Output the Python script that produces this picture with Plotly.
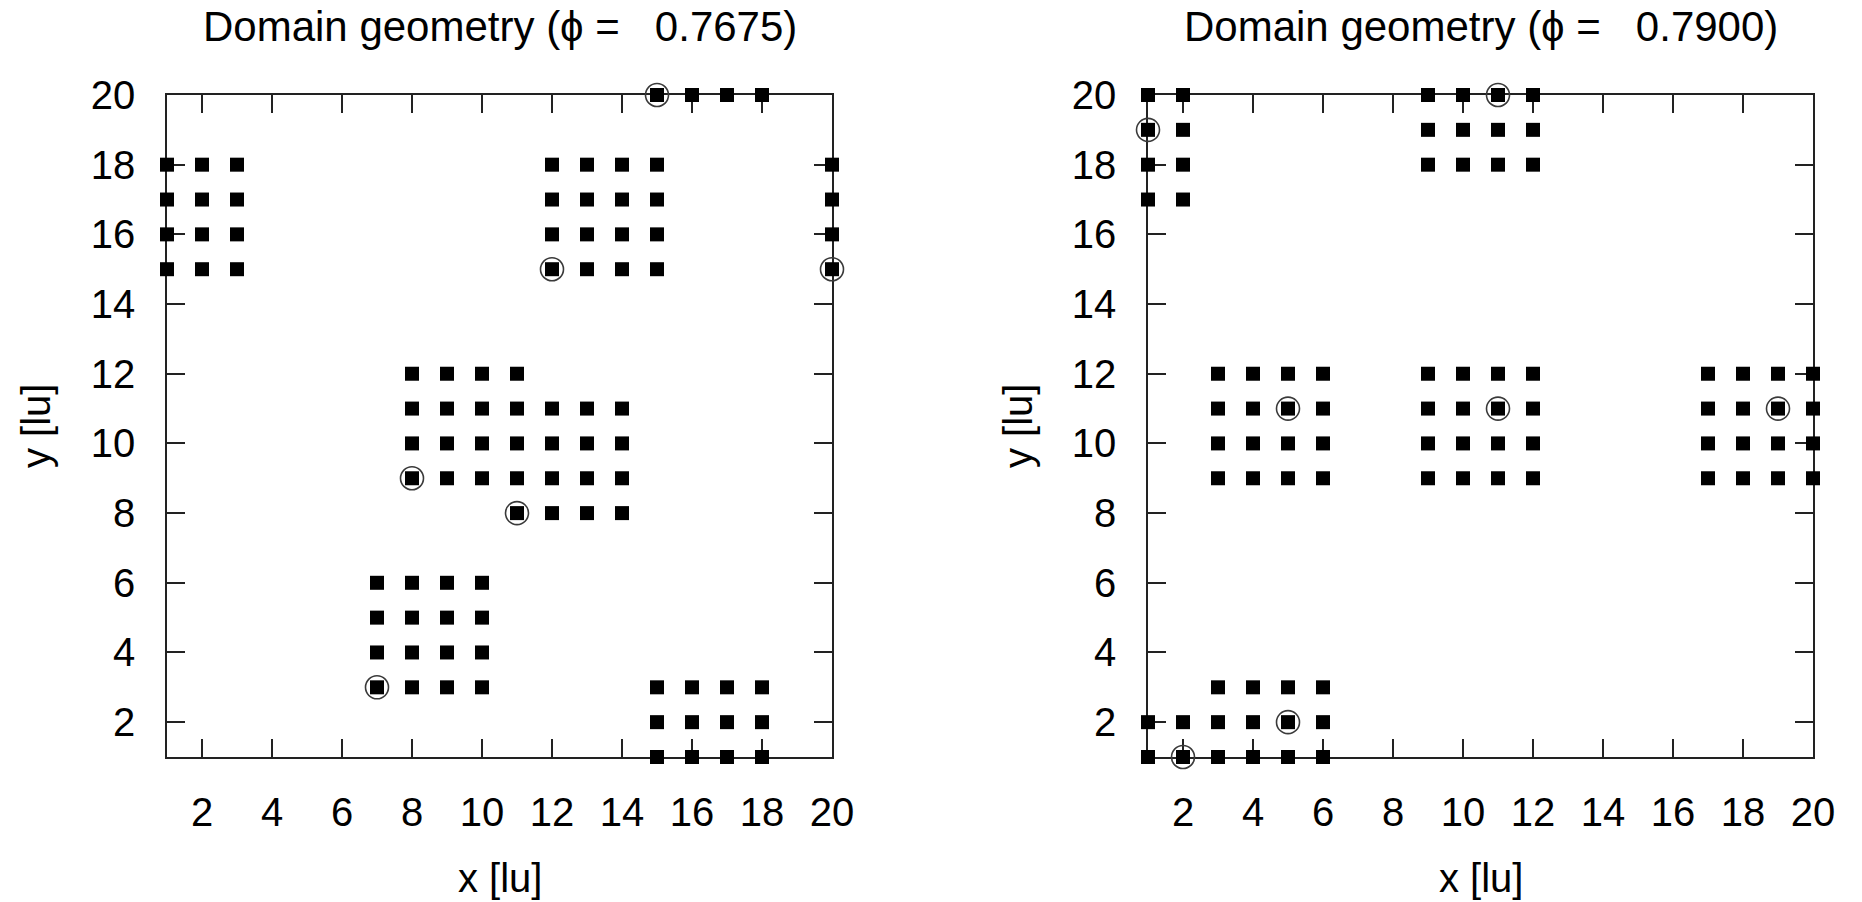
import plotly.graph_objects as go

W, H = 1862, 902

# ---------------- data ----------------
# Left panel, phi = 0.7675 : rows of filled squares  (y, [x ...])
left_rows_y = [20, 18, 17, 16, 15, 12, 11, 10, 9, 8, 6, 5, 4, 3, 2, 1]
left_rows_x = [
    [15, 16, 17, 18],
    [1, 2, 3, 12, 13, 14, 15, 20],
    [1, 2, 3, 12, 13, 14, 15, 20],
    [1, 2, 3, 12, 13, 14, 15, 20],
    [1, 2, 3, 12, 13, 14, 15, 20],
    [8, 9, 10, 11],
    [8, 9, 10, 11, 12, 13, 14],
    [8, 9, 10, 11, 12, 13, 14],
    [8, 9, 10, 11, 12, 13, 14],
    [11, 12, 13, 14],
    [7, 8, 9, 10],
    [7, 8, 9, 10],
    [7, 8, 9, 10],
    [7, 8, 9, 10, 15, 16, 17, 18],
    [15, 16, 17, 18],
    [15, 16, 17, 18],
]
left_circle_x = [15, 12, 20, 8, 11, 7]
left_circle_y = [20, 15, 15, 9, 8, 3]
left_phi = "0.7675"

# Right panel, phi = 0.7900
right_rows_y = [20, 19, 18, 17, 12, 11, 10, 9, 3, 2, 1]
right_rows_x = [
    [1, 2, 9, 10, 11, 12],
    [1, 2, 9, 10, 11, 12],
    [1, 2, 9, 10, 11, 12],
    [1, 2],
    [3, 4, 5, 6, 9, 10, 11, 12, 17, 18, 19, 20],
    [3, 4, 5, 6, 9, 10, 11, 12, 17, 18, 19, 20],
    [3, 4, 5, 6, 9, 10, 11, 12, 17, 18, 19, 20],
    [3, 4, 5, 6, 9, 10, 11, 12, 17, 18, 19, 20],
    [3, 4, 5, 6],
    [1, 2, 3, 4, 5, 6],
    [1, 2, 3, 4, 5, 6],
]
right_circle_x = [1, 11, 5, 11, 19, 2, 5]
right_circle_y = [19, 20, 11, 11, 11, 1, 2]
right_phi = "0.7900"

tick_vals = [2, 4, 6, 8, 10, 12, 14, 16, 18, 20]
axis_range = [1, 20]
x_title = "x [lu]"
y_title = "y [lu]"


def flatten(rows_y, rows_x):
    xs, ys = [], []
    for yv, xr in zip(rows_y, rows_x):
        for xv in xr:
            xs.append(xv)
            ys.append(yv)
    return xs, ys


# ---------------- layout geometry (pixels) ----------------
top_px, bot_px = 95, 757
left_dom_px = (167, 832)
right_dom_px = (1148, 1813)

FONT = "Liberation Sans, Arial, sans-serif"
FS = 40
FS_TITLE = 42

fig = go.Figure()

panels = [
    ("x", "y", left_rows_y, left_rows_x, left_circle_x, left_circle_y),
    ("x2", "y2", right_rows_y, right_rows_x, right_circle_x, right_circle_y),
]
for xa, ya, ry, rx, cx, cy in panels:
    sx, sy = flatten(ry, rx)
    fig.add_trace(go.Scatter(
        x=sx, y=sy, mode="markers", xaxis=xa, yaxis=ya,
        marker=dict(symbol="square", size=14, color="black", line=dict(width=0)),
        cliponaxis=False, showlegend=False, hoverinfo="x+y"))
    fig.add_trace(go.Scatter(
        x=cx, y=cy, mode="markers", xaxis=xa, yaxis=ya,
        marker=dict(symbol="circle-open", size=23, color="#3a3a3a",
                    line=dict(width=1.6, color="#3a3a3a")),
        cliponaxis=False, showlegend=False, hoverinfo="x+y"))

ydom = [1 - bot_px / H, 1 - top_px / H]


def axis_common():
    return dict(
        range=axis_range, tickvals=tick_vals, ticks="inside", ticklen=18,
        tickwidth=1.5, tickcolor="#222", showline=True, linecolor="#222",
        linewidth=1.5, mirror="ticks", showgrid=False, zeroline=False,
        layer="below traces", automargin=False, fixedrange=True,
        tickfont=dict(family=FONT, size=FS, color="black"),
    )


fig.update_layout(
    width=W, height=H, autosize=False,
    margin=dict(l=0, r=0, t=0, b=0, pad=0, autoexpand=False),
    paper_bgcolor="white", plot_bgcolor="white",
    xaxis=dict(domain=[left_dom_px[0] / W, left_dom_px[1] / W], anchor="y",
               ticklabelstandoff=19, **axis_common()),
    yaxis=dict(domain=ydom, anchor="x", ticklabelstandoff=22, **axis_common()),
    xaxis2=dict(domain=[right_dom_px[0] / W, right_dom_px[1] / W], anchor="y2",
                ticklabelstandoff=19, **axis_common()),
    yaxis2=dict(domain=ydom, anchor="x2", ticklabelstandoff=22, **axis_common()),
)

NB = "\u00a0"
annos = []
for (d0, d1), phi, ylab_x in [(left_dom_px, left_phi, 36), (right_dom_px, right_phi, 1018)]:
    cxp = (d0 + d1) / 2 / W
    annos.append(dict(
        text="Domain geometry (\u03d5 =" + NB * 3 + phi + ")",
        x=cxp, y=1 - 27 / H, xref="paper", yref="paper",
        xanchor="center", yanchor="middle", showarrow=False,
        font=dict(family=FONT, size=FS_TITLE, color="black")))
    annos.append(dict(
        text=x_title, x=cxp, y=1 - 878 / H, xref="paper", yref="paper",
        xanchor="center", yanchor="middle", showarrow=False,
        font=dict(family=FONT, size=FS, color="black")))
    annos.append(dict(
        text=y_title, x=ylab_x / W, y=1 - ((top_px + bot_px) / 2) / H,
        xref="paper", yref="paper", xanchor="center", yanchor="middle",
        textangle=-90, showarrow=False,
        font=dict(family=FONT, size=FS, color="black")))
fig.update_layout(annotations=annos)

fig.write_html("out.html", config={"displayModeBar": False})
